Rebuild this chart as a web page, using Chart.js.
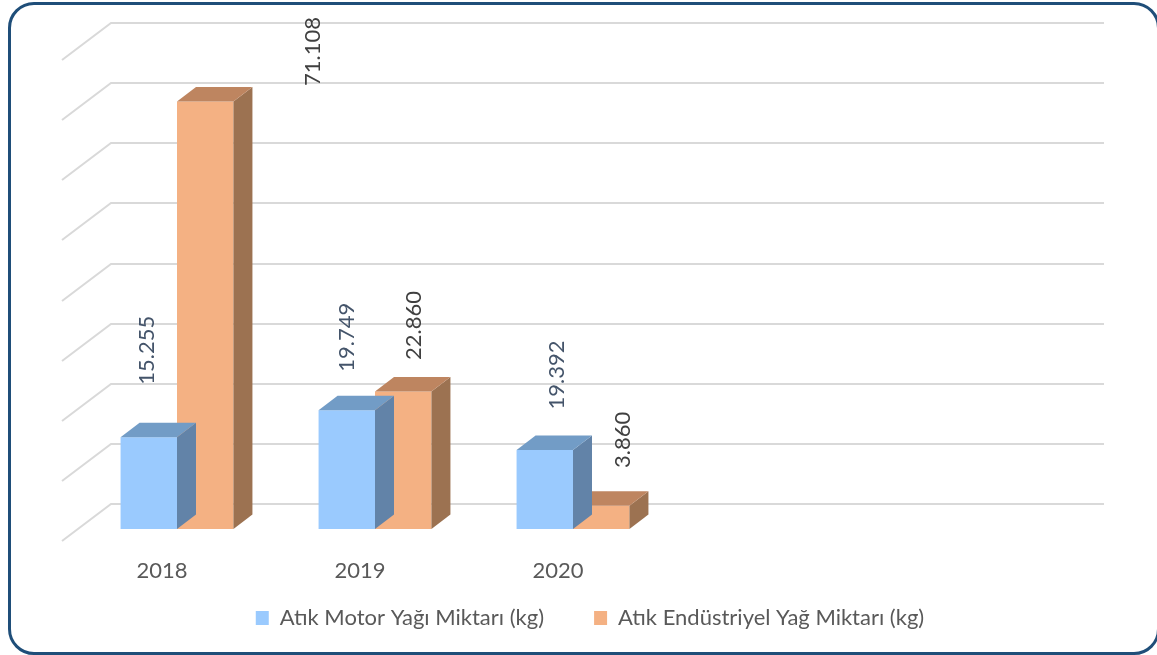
<!DOCTYPE html>
<html>
<head>
<meta charset="utf-8">
<script src="https://cdn.jsdelivr.net/npm/chart.js@4"></script>
<style>
    body { margin: 0; background: #ffffff; }
    .frame {
        position: absolute; left: 8px; top: 2px;
        width: 1152px; height: 653px;
        box-sizing: border-box;
        border: 3px solid #1F4E79; border-radius: 26px;
    }
    .wrap { position: absolute; left: 0; top: 0; width: 1157px; height: 655px; }
</style>
</head>
<body>
<div class="frame"></div>
<div class="wrap"><canvas id="myChart"></canvas></div>
<script>
// Chart data
const years = ['2018', '2019', '2020', '', ''];
const motorOil = [15255, 19749, 13150, null, null];
const industrialOil = [71108, 22860, 3860, null, null];
const motorLabels = ['15.255', '19.749', '19.392'];
const industrialLabels = ['71.108', '22.860', '3.860'];
const seriesNames = ['Atık Motor Yağı Miktarı (kg)', 'Atık Endüstriyel Yağ Miktarı (kg)'];
const yMin = 0;
const yMax = 80000;
const yStep = 10000;

// 3D look
const FONT = 'Lato';
const DEPTH = { dx: 19, dy: -14.5 };    // bar top/side depth
const WALL = { dx: 33, dy: -25 };       // back wall offset from bar front
const FLOOR = { dx: -16, dy: 12 };      // front edge of the floor
const faces = [
    { front: '#9ACAFE', top: '#729CC6', side: '#6283A8', label: '#44546A' },
    { front: '#F4B183', top: '#BE8560', side: '#9C7251', label: '#404040' }
];
const valueLabels = [motorLabels, industrialLabels];
// label centre offsets from each bar's front top (dataset -> bar)
const labelShift = [
    [[-2, -87], [0, -73], [12, -75]],
    [[108, -50], [11, -66], [22, -66]]
];

// back wall grid, behind the bars
const wallGrid = {
    id: 'wallGrid',
    beforeDatasetsDraw(chart) {
        const ctx = chart.ctx;
        const area = chart.chartArea;
        const ys = chart.scales.y;
        ctx.save();
        ctx.strokeStyle = '#D9D9D9';
        ctx.lineWidth = 2;
        ys.ticks.forEach(t => {
            const y = Math.round(ys.getPixelForValue(t.value) + WALL.dy);
            ctx.beginPath();
            ctx.moveTo(area.left + FLOOR.dx, y - WALL.dy + FLOOR.dy);
            ctx.lineTo(area.left + WALL.dx, y);
            ctx.lineTo(area.right + WALL.dx + 3, y);
            ctx.stroke();
        });
        ctx.restore();
    }
};

// top and side faces of the bars, then the rotated value labels
const bars3d = {
    id: 'bars3d',
    afterDatasetDraw(chart, args) {
        const ctx = chart.ctx;
        const f = faces[args.index];
        ctx.save();
        args.meta.data.forEach((bar, i) => {
            if (chart.data.datasets[args.index].data[i] == null) return;
            const p = bar.getProps(['x', 'y', 'base', 'width'], true);
            const l = p.x - p.width / 2, r = p.x + p.width / 2;
            ctx.fillStyle = f.side;
            ctx.beginPath();
            ctx.moveTo(r, p.y);
            ctx.lineTo(r + DEPTH.dx, p.y + DEPTH.dy);
            ctx.lineTo(r + DEPTH.dx, p.base + DEPTH.dy);
            ctx.lineTo(r, p.base);
            ctx.closePath();
            ctx.fill();
            ctx.fillStyle = f.top;
            ctx.beginPath();
            ctx.moveTo(l, p.y);
            ctx.lineTo(r, p.y);
            ctx.lineTo(r + DEPTH.dx, p.y + DEPTH.dy);
            ctx.lineTo(l + DEPTH.dx, p.y + DEPTH.dy);
            ctx.closePath();
            ctx.fill();
        });
        ctx.restore();
    },
    afterDatasetsDraw(chart) {
        const ctx = chart.ctx;
        ctx.save();
        ctx.font = `22px ${FONT}`;
        ctx.textAlign = 'center';
        ctx.textBaseline = 'middle';
        chart.data.datasets.forEach((ds, di) => {
            chart.getDatasetMeta(di).data.forEach((bar, i) => {
                if (ds.data[i] == null) return;
                const s = labelShift[di][i];
                ctx.save();
                ctx.translate(bar.x + s[0], bar.y + s[1]);
                ctx.rotate(-Math.PI / 2);
                ctx.fillStyle = faces[di].label;
                ctx.fillText(valueLabels[di][i], 0, 0);
                ctx.restore();
            });
        });
        ctx.restore();
    }
};

document.addEventListener('DOMContentLoaded', () => {
    const ctx = document.getElementById('myChart').getContext('2d');
    new Chart(ctx, {
        type: 'bar',
        data: {
            labels: years,
            datasets: [
                { label: seriesNames[0], data: motorOil, backgroundColor: faces[0].front, borderWidth: 0 },
                { label: seriesNames[1], data: industrialOil, backgroundColor: faces[1].front, borderWidth: 0 }
            ]
        },
        options: {
            responsive: true,
            maintainAspectRatio: false,
            animation: false,
            layout: { padding: { left: 23, right: 0, top: 48, bottom: 16 } },
            datasets: { bar: { categoryPercentage: 0.57, barPercentage: 1.0 } },
            plugins: {
                tooltip: { enabled: false },
                legend: {
                    position: 'bottom',
                    labels: {
                        boxWidth: 13,
                        boxHeight: 14,
                        padding: 50,
                        color: '#595959',
                        font: { family: FONT, size: 22 }
                    }
                }
            },
            scales: {
                x: {
                    grid: { display: false },
                    border: { display: false },
                    ticks: {
                        color: '#595959',
                        font: { family: FONT, size: 22 },
                        // mirror keeps the labels unclipped below the short axis box
                        mirror: true,
                        padding: -55,
                        labelOffset: -15
                    },
                    afterFit: s => { s.height = 28; }
                },
                y: {
                    min: yMin,
                    max: yMax,
                    ticks: { display: false, stepSize: yStep },
                    grid: { display: false },
                    border: { display: false },
                    afterFit: s => { s.width = 55; }
                },
                y2: {
                    position: 'right',
                    ticks: { display: false },
                    grid: { display: false },
                    border: { display: false },
                    afterFit: s => { s.width = 89; }
                }
            }
        },
        plugins: [wallGrid, bars3d]
    });
});
</script>
</body>
</html>
